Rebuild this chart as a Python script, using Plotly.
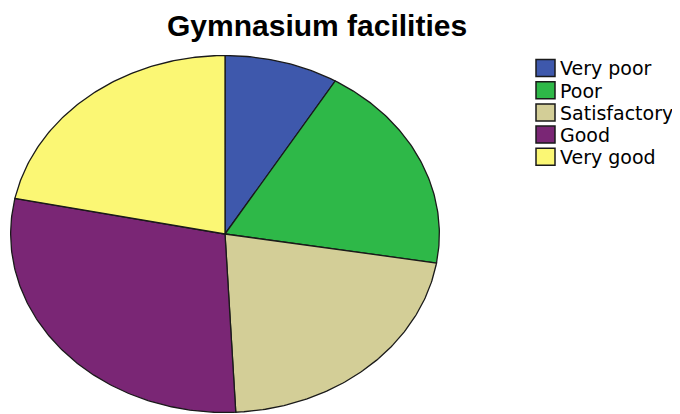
import numpy as np
import plotly.graph_objects as go

categories = ["Very poor", "Poor", "Satisfactory", "Good", "Very good"]
values = [8.6, 19.0, 21.6, 29.0, 21.8]
colors = ["#3E58AC", "#2EB848", "#D3CE97", "#7A2675", "#FBF774"]
title = "Gymnasium facilities"

W, H = 680, 414
OFF = 8  # page body margin in the browser
fig = go.Figure()


def px(x):
    return (x - OFF) / W


def py(y):
    return 1 - (y - OFF) / H


total = sum(values)
start = 0.0
for cat, v, c in zip(categories, values, colors):
    end = start + v / total * 2 * np.pi
    t = np.linspace(start, end, max(int((end - start) * 80), 4))
    xs = np.concatenate([[0], np.sin(t), [0]])
    ys = np.concatenate([[0], np.cos(t), [0]])
    fig.add_trace(go.Scatter(x=xs, y=ys, mode="lines", fill="toself",
                             fillcolor=c, line=dict(color="#1a1a1a", width=1.3),
                             showlegend=False, hoverinfo="skip", name=cat))
    start = end

# legend (drawn as boxes + text, one row per category)
row0, pitch = 68, 22.2
for i, (cat, c) in enumerate(zip(categories, colors)):
    cy = row0 + i * pitch
    fig.add_shape(type="rect", xref="paper", yref="paper",
                  x0=px(536), x1=px(555), y0=py(cy - 8.5), y1=py(cy + 8.5),
                  fillcolor=c, line=dict(color="#1a1a1a", width=1.5))
    fig.add_annotation(text=cat, xref="paper", yref="paper",
                       x=px(558), y=py(cy + 0.5), xanchor="left", yanchor="middle",
                       showarrow=False,
                       font=dict(family="DejaVu Sans", size=19, color="black"))

fig.add_annotation(text="<b>" + title + "</b>", xref="paper", yref="paper",
                   x=px(317), y=1, xanchor="center", yanchor="top",
                   showarrow=False, borderpad=0,
                   font=dict(family="Liberation Sans, Arial", size=30, color="black"))

fig.update_layout(
    width=W, height=H,
    margin=dict(l=0, r=0, t=0, b=0),
    paper_bgcolor="white", plot_bgcolor="white",
    xaxis=dict(range=[-1.003, 1.003], domain=[px(10), px(440)], visible=False,
               fixedrange=True),
    yaxis=dict(range=[-1.003, 1.003], domain=[py(413), py(55)], visible=False,
               fixedrange=True),
    showlegend=False,
)

fig.write_html("out.html")
